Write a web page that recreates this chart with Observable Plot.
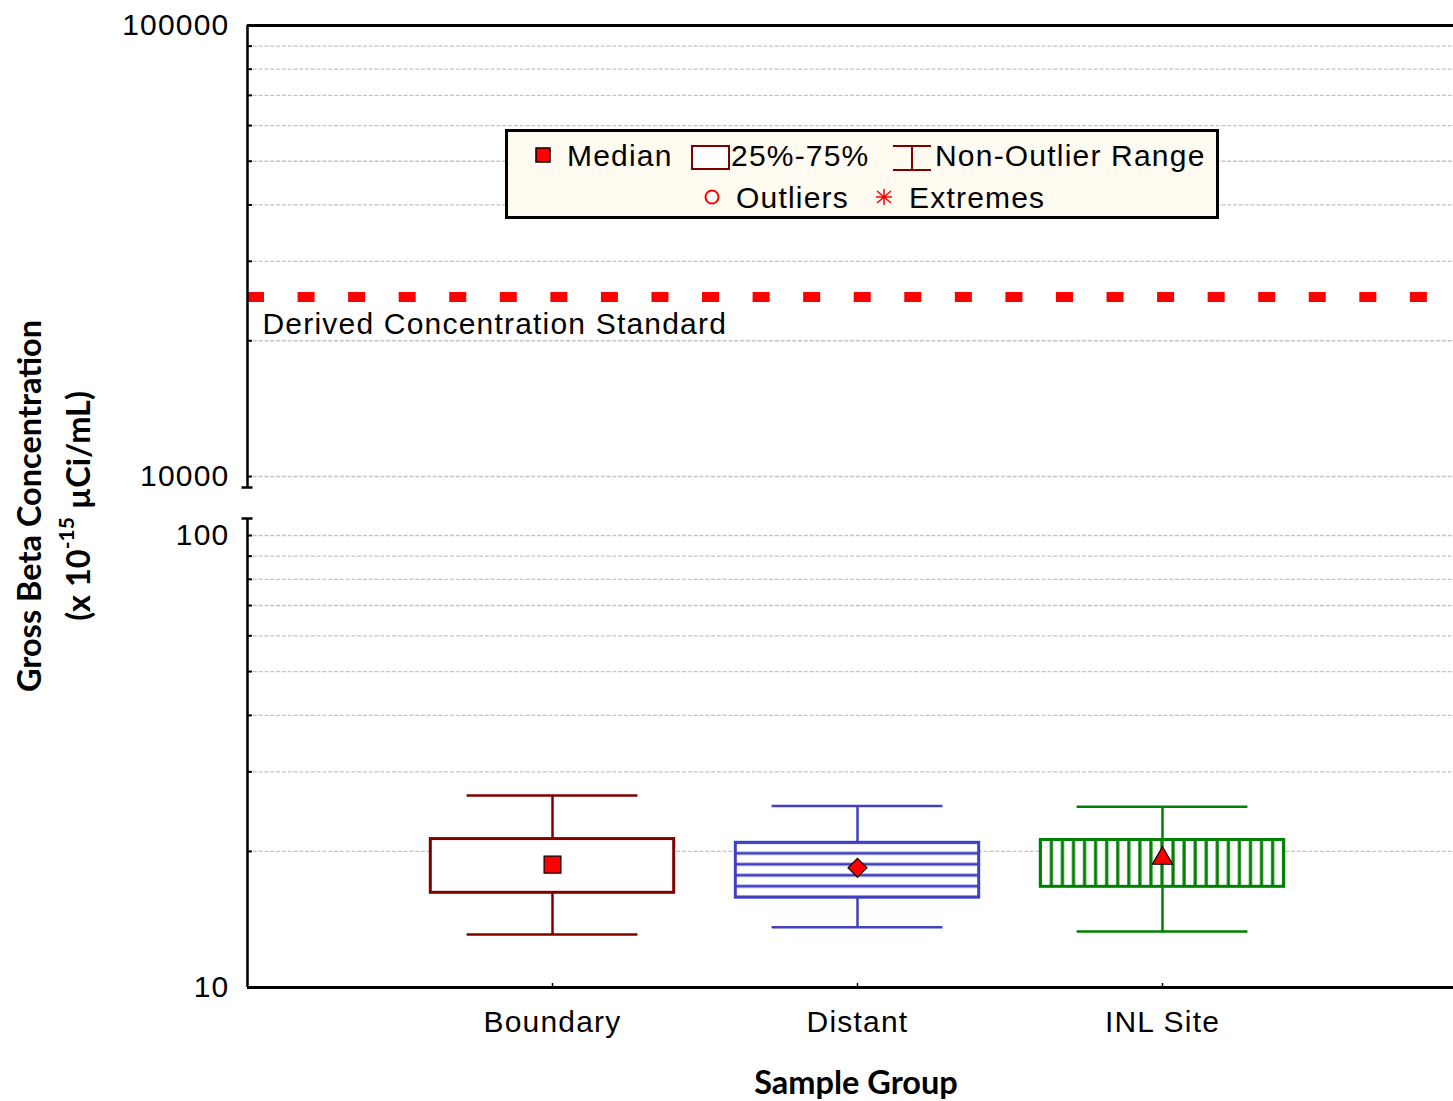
<!DOCTYPE html>
<html>
<head>
<meta charset="utf-8">
<script src="https://cdn.jsdelivr.net/npm/d3@7"></script>
<script src="https://cdn.jsdelivr.net/npm/@observablehq/plot@0.6"></script>
<style>
  html, body { margin: 0; padding: 0; background: #fff; overflow: hidden; }
  #page { position: relative; width: 1453px; height: 1101px; overflow: hidden; background: #fff; }
  .panel { position: absolute; left: 0; width: 1467px; }
  .panel svg { max-width: none !important; }
  #legend { position: absolute; left: 505px; top: 129px; }
  #legend text { font-family: "Liberation Sans", Arial, sans-serif; font-size: 30px; letter-spacing: 1.2px; dominant-baseline: central; fill: #000; }
  #ytitle { position: absolute; left: 53px; top: 506px; transform: translate(-50%, -50%) rotate(-90deg);
            text-align: center; font-family: Lato, "Open Sans", sans-serif; font-weight: bold; font-size: 32.5px;
            line-height: 49px; white-space: nowrap; color: #000; }
  #ytitle sup { font-size: 21px; line-height: 0; vertical-align: 0.75em; }
  #xtitle { position: absolute; left: 856px; top: 1082px; transform: translate(-50%, -50%);
            font-family: Lato, "Open Sans", sans-serif; font-weight: bold; font-size: 32.5px; line-height: 32px;
            white-space: nowrap; color: #000; }
</style>
</head>
<body>
<div id="page">
  <svg width="0" height="0" style="position:absolute">
    <defs>
      <pattern id="hatchH" patternUnits="objectBoundingBox" patternContentUnits="objectBoundingBox" width="1" height="0.2">
        <rect x="0" y="0" width="1" height="0.2" fill="#fff"/>
        <rect x="0" y="0" width="1" height="0.026" fill="#4040c0"/>
        <rect x="0" y="0.174" width="1" height="0.026" fill="#4040c0"/>
      </pattern>
      <pattern id="hatchV" patternUnits="objectBoundingBox" patternContentUnits="objectBoundingBox" width="0.04545" height="1">
        <rect x="0" y="0" width="0.04545" height="1" fill="#fff"/>
        <rect x="0" y="0" width="0.0065" height="1" fill="#008000"/>
        <rect x="0.03895" y="0" width="0.0065" height="1" fill="#008000"/>
      </pattern>
    </defs>
  </svg>
  <div id="upper" class="panel" style="top:0px"></div>
  <div id="lower" class="panel" style="top:500px"></div>
  <svg id="legend" width="715" height="91">
    <rect x="1.5" y="1.5" width="711" height="87" fill="#fffbf0" stroke="#000" stroke-width="3"/>
    <rect x="31" y="19" width="14" height="14" fill="#ff0000" stroke="#000" stroke-width="1.5"/>
    <text x="62" y="26">Median</text>
    <rect x="187" y="17" width="37" height="23" fill="#fff" stroke="#800000" stroke-width="2"/>
    <text x="226" y="26">25%-75%</text>
    <path d="M388 17 H426 M407 17 V41 M388 41 H426" stroke="#800000" stroke-width="2" fill="none"/>
    <text x="430" y="26">Non-Outlier Range</text>
    <circle cx="207" cy="68" r="6.5" fill="#fff" stroke="#ff0000" stroke-width="2"/>
    <text x="231" y="68">Outliers</text>
    <path d="M379 60 V76 M372 62 L386 74 M386 62 L372 74 M371 68 H387" stroke="#ff0000" stroke-width="1.5" fill="none"/>
    <text x="404" y="68">Extremes</text>
  </svg>
  <div id="ytitle">Gross Beta Concentration<br>(x 10<sup>-15</sup> µCi/mL)</div>
  <div id="xtitle">Sample Group</div>
</div>
<script>
// ---- data ----
const groups = ["Boundary", "Distant", "INL Site"];
const whiskerLow = [13.1, 13.6, 13.3];
const q1 = [16.2, 15.8, 16.7];
const median = [18.7, 18.4, 19.3];
const q3 = [21.3, 20.9, 21.2];
const whiskerHigh = [26.6, 25.2, 25.1];
const dcsValue = [25000];
const dcsLabel = ["Derived Concentration Standard"];
const upperTicks = [10000, 20000, 30000, 40000, 50000, 60000, 70000, 80000, 90000, 100000];
const upperLabels = [10000, 100000];
const lowerTicks = [10, 20, 30, 40, 50, 60, 70, 80, 90, 100];
const lowerLabels = [10, 100];

// ---- styles (not data) ----
const groupStyle = [
  {stroke: "#800000", fill: "#ffffff", symbol: "square", r: 9.5},
  {stroke: "#4040c0", fill: "url(#hatchH)", symbol: "diamond2", r: 8.5},
  {stroke: "#008000", fill: "url(#hatchV)", symbol: "triangle", r: 7.5}
];

const rows = groups.map((g, k) => ({
  group: g, pos: k + 1,
  lo: whiskerLow[k], q1: q1[k], med: median[k], q3: q3[k], hi: whiskerHigh[k]
}));

const font = {fontFamily: "'Liberation Sans', Arial, sans-serif", fontSize: "30px", letterSpacing: "1.2px",
              background: "#fff", overflow: "visible", maxWidth: "none", color: "#000"};
const gridStyle = {stroke: "#c4c4c4", strokeWidth: 1.3, strokeDasharray: "4,1.8"};
const axisW = 2.5;

// ---- upper panel (10000 - 100000) ----
const upper = Plot.plot({
  width: 1467, height: 500,
  marginLeft: 247, marginRight: 0, marginTop: 25, marginBottom: 24,
  style: font,
  x: {domain: [0, groups.length + 1], axis: null},
  y: {type: "log", domain: [10000, 100000], axis: null},
  marks: [
    Plot.ruleY(upperTicks, gridStyle),
    Plot.ruleY(dcsValue, {stroke: "#ff0000", strokeWidth: 10, strokeDasharray: "17,33.56"}),
    Plot.text(dcsLabel, {x: 0, y: () => dcsValue[0], dx: 15, dy: 27, textAnchor: "start", fontSize: 30, fill: "#000"}),
    Plot.ruleY(upperTicks, {x1: 0, x2: 0, insetRight: -5, stroke: "#000", strokeWidth: 2}),
    Plot.ruleX([0], {insetBottom: -11, stroke: "#000", strokeWidth: axisW}),
    Plot.ruleY([10000], {x1: 0, x2: 0, insetLeft: -5.5, insetRight: -5.5, dy: 11, stroke: "#000", strokeWidth: axisW}),
    Plot.ruleY([100000], {stroke: "#000", strokeWidth: 3}),
    Plot.axisY({ticks: upperLabels, tickSize: 0, tickPadding: 18, fontSize: 30, tickFormat: d => String(d), label: null})
  ]
});
document.getElementById("upper").appendChild(upper);

// ---- lower panel (10 - 100) ----
const boxMarks = [];
rows.forEach((d, k) => {
  const s = groupStyle[k];
  const one = [d];
  boxMarks.push(
    Plot.ruleX(one, {x: "pos", y1: "q3", y2: "hi", stroke: s.stroke, strokeWidth: 2.5}),
    Plot.ruleX(one, {x: "pos", y1: "lo", y2: "q1", stroke: s.stroke, strokeWidth: 2.5}),
    Plot.ruleY(one, {y: "hi", x1: r => r.pos - 0.28, x2: r => r.pos + 0.28, stroke: s.stroke, strokeWidth: 2.5}),
    Plot.ruleY(one, {y: "lo", x1: r => r.pos - 0.28, x2: r => r.pos + 0.28, stroke: s.stroke, strokeWidth: 2.5}),
    Plot.rect(one, {x1: r => r.pos - 0.399, x2: r => r.pos + 0.399, y1: "q1", y2: "q3", fill: s.fill, stroke: s.stroke, strokeWidth: 3}),
    Plot.dot(one, {x: "pos", y: "med", symbol: s.symbol, r: s.r, fill: "#ff0000", stroke: "#000", strokeWidth: 1.2})
  );
});

const lower = Plot.plot({
  width: 1467, height: 601,
  marginLeft: 247, marginRight: 0, marginTop: 35, marginBottom: 114,
  style: font,
  x: {domain: [0, groups.length + 1], axis: null},
  y: {type: "log", domain: [10, 100], axis: null},
  marks: [
    Plot.ruleY(lowerTicks.filter(v => v > 10), gridStyle),
    ...boxMarks,
    Plot.ruleY(lowerTicks, {x1: 0, x2: 0, insetRight: -5, stroke: "#000", strokeWidth: 2}),
    Plot.ruleX([0], {insetTop: -17, stroke: "#000", strokeWidth: axisW}),
    Plot.ruleY([100], {x1: 0, x2: 0, insetLeft: -5.5, insetRight: -5.5, dy: -17, stroke: "#000", strokeWidth: axisW}),
    Plot.ruleY([10], {stroke: "#000", strokeWidth: 3}),
    Plot.ruleX(rows, {x: "pos", y1: () => 10, y2: () => 10, insetTop: -4, stroke: "#000", strokeWidth: 1.5}),
    Plot.axisY({ticks: lowerLabels, tickSize: 0, tickPadding: 18, fontSize: 30, tickFormat: d => String(d), label: null}),
    Plot.axisX({ticks: rows.map(r => r.pos), tickSize: 0, tickPadding: 23, fontSize: 30,
                tickFormat: p => groups[p - 1], label: null})
  ]
});
document.getElementById("lower").appendChild(lower);
</script>
</body>
</html>
